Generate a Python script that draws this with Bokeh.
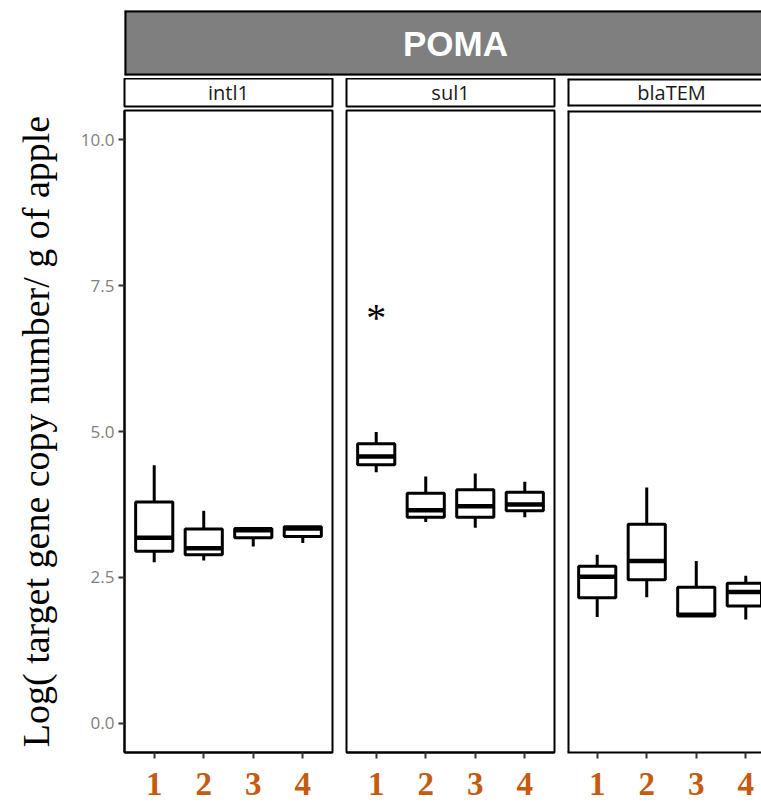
from bokeh.plotting import figure
from bokeh.layouts import column, row
from bokeh.models import Range1d, FixedTicker, Label, Span, ColumnDataSource
from bokeh.core.properties import value
from bokeh.embed import file_html
from bokeh.resources import INLINE

# ---------------- data ----------------
header = "POMA"
genes = ["intl1", "sul1", "blaTEM"]
groups = [1, 2, 3, 4]
group_labels = ["1", "2", "3", "4"]
y_ticks = [0.0, 2.5, 5.0, 7.5, 10.0]
y_tick_labels = ["0.0", "2.5", "5.0", "7.5", "10.0"]
y_title = "Log( target gene copy number/ g of apple"

intl1_lower = [2.76, 2.79, 3.03, 3.09]
intl1_q1 = [2.95, 2.89, 3.18, 3.20]
intl1_median = [3.18, 3.00, 3.31, 3.34]
intl1_q3 = [3.79, 3.33, 3.34, 3.37]
intl1_upper = [4.42, 3.64, 3.34, 3.37]

sul1_lower = [4.30, 3.45, 3.35, 3.53]
sul1_q1 = [4.43, 3.53, 3.53, 3.64]
sul1_median = [4.57, 3.65, 3.72, 3.75]
sul1_q3 = [4.79, 3.94, 4.00, 3.96]
sul1_upper = [4.99, 4.23, 4.28, 4.14]

blaTEM_lower = [1.82, 2.16, 1.82, 1.78]
blaTEM_q1 = [2.15, 2.46, 1.84, 2.01]
blaTEM_median = [2.51, 2.78, 1.86, 2.25]
blaTEM_q3 = [2.69, 3.41, 2.33, 2.40]
blaTEM_upper = [2.89, 4.04, 2.78, 2.53]

signif_gene = "sul1"
signif_group = 1
signif_y = 7.0
signif_mark = "*"

stats = {
    "intl1": (intl1_lower, intl1_q1, intl1_median, intl1_q3, intl1_upper),
    "sul1": (sul1_lower, sul1_q1, sul1_median, sul1_q3, sul1_upper),
    "blaTEM": (blaTEM_lower, blaTEM_q1, blaTEM_median, blaTEM_q3, blaTEM_upper),
}

# ---------------- layout constants ----------------
W, H = 761, 804
Y0, Y1 = -0.5, 10.5
X0, X1 = 0.4, 4.6
LEFT = 124
PW = 208
border_l = [LEFT, 7, 7]
border_r = [7, 6, 0]
used = sum(border_l[:2]) + sum(border_r[:2]) + 2 * PW + border_l[2]
frame_w = [PW, PW, W - used]
HEAD_H = 78
STRIP_H = 30
PANEL_H = H - HEAD_H - STRIP_H
BOX_W = 0.75
ORANGE = "#C55A11"
LW = 3


def edges(p, x0, x1, y0, y1, sides, color="black", width=4):
    if "l" in sides:
        p.add_layout(Span(location=x0, dimension="height", line_color=color, line_width=width))
    if "r" in sides:
        p.add_layout(Span(location=x1, dimension="height", line_color=color, line_width=width))
    if "t" in sides:
        p.add_layout(Span(location=y1, dimension="width", line_color=color, line_width=width))
    if "b" in sides:
        p.add_layout(Span(location=y0, dimension="width", line_color=color, line_width=width))


# ---------------- header ----------------
head_w = W - LEFT
head = figure(width=W, height=HEAD_H, x_range=Range1d(0, head_w), y_range=Range1d(0, 1),
              x_axis_location=None, y_axis_location=None, toolbar_location=None,
              output_backend="svg", min_border_left=LEFT, min_border_right=0,
              min_border_top=10, min_border_bottom=3, background_fill_color="#7f7f7f",
              border_fill_color="white", outline_line_color=None)
head.grid.grid_line_color = None
edges(head, 0, head_w, 0, 1, "ltb")
head.add_layout(Label(x=331, y=0.5, text=header, text_align="center", text_baseline="middle",
                      text_color="white", text_font_size="35px", text_font_style="bold",
                      text_font="Liberation Sans"))

strips = []
panels = []
for i, gene in enumerate(genes):
    fw = frame_w[i]
    xend = X0 + fw * (X1 - X0) / PW
    xr = Range1d(X0, xend)
    width = border_l[i] + fw + border_r[i]
    last = i == len(genes) - 1

    # strip
    s = figure(width=width, height=STRIP_H, x_range=xr, y_range=Range1d(0, 1),
               x_axis_location=None, y_axis_location=None, toolbar_location=None,
               output_backend="svg", min_border_left=border_l[i], min_border_right=border_r[i],
               min_border_top=0, min_border_bottom=2, background_fill_color="white",
               border_fill_color="white",
               outline_line_color=None if last else "black", outline_line_width=2)
    s.grid.grid_line_color = None
    if last:
        edges(s, X0, xend, 0, 1, "ltb")
    s.add_layout(Label(x=(X0 + X1) / 2, y=0.5, text=gene, text_align="center",
                       text_baseline="middle", text_color="#1a1a1a", text_font_size="20px",
                       text_font="Open Sans"))
    strips.append(s)

    # panel
    p = figure(width=width, height=PANEL_H, x_range=xr, y_range=Range1d(Y0, Y1),
               toolbar_location=None, output_backend="svg",
               min_border_left=border_l[i], min_border_right=border_r[i],
               min_border_top=2, min_border_bottom=52,
               y_axis_location="left" if i == 0 else None,
               background_fill_color="white", border_fill_color="white",
               outline_line_color=None if last else "black", outline_line_width=2)
    p.grid.grid_line_color = None
    if last:
        edges(p, X0, xend, Y0, Y1, "lt")

    xa = p.xaxis[0]
    xa.ticker = FixedTicker(ticks=groups)
    xa.major_label_overrides = {g: l for g, l in zip(groups, group_labels)}
    xa.major_label_text_font = "Liberation Serif"
    xa.major_label_text_font_style = "bold"
    xa.major_label_text_font_size = "33px"
    xa.major_label_text_color = ORANGE
    xa.major_label_standoff = 14
    xa.major_tick_out = 6
    xa.major_tick_in = 0
    xa.minor_tick_line_color = None
    xa.major_tick_line_width = 2
    xa.major_tick_line_color = "#333333"
    xa.axis_line_width = 2
    xa.axis_line_color = "black"

    if i == 0:
        ya = p.yaxis[0]
        ya.ticker = FixedTicker(ticks=y_ticks)
        ya.major_label_overrides = {t: l for t, l in zip(y_ticks, y_tick_labels)}
        ya.major_label_text_font = "Open Sans"
        ya.major_label_text_font_size = "17px"
        ya.major_label_text_color = "#808080"
        ya.major_label_standoff = 4
        ya.major_tick_out = 6
        ya.major_tick_in = 0
        ya.minor_tick_line_color = None
        ya.major_tick_line_width = 2
        ya.major_tick_line_color = "#333333"
        ya.axis_line_width = 2
        ya.axis_line_color = "black"
        ya.axis_label = y_title
        ya.axis_label_text_font = "Liberation Serif"
        ya.axis_label_text_font_style = "normal"
        ya.axis_label_text_font_size = "38px"
        ya.axis_label_text_color = "black"
        ya.axis_label_standoff = 21

    lo, q1, med, q3, up = stats[gene]
    src = ColumnDataSource(dict(
        x=groups, lo=lo, q1=q1, med=med, q3=q3, up=up,
        left=[g - BOX_W / 2 for g in groups], right=[g + BOX_W / 2 for g in groups],
    ))
    p.segment(x0="x", y0="lo", x1="x", y1="q1", source=src, line_color="black", line_width=LW)
    p.segment(x0="x", y0="q3", x1="x", y1="up", source=src, line_color="black", line_width=LW)
    p.vbar(x="x", width=BOX_W, top="q3", bottom="q1", source=src, fill_color="white",
           line_color="black", line_width=LW)
    p.segment(x0="left", y0="med", x1="right", y1="med", source=src, line_color="black",
              line_width=4.5)

    if gene == signif_gene:
        p.text(x=[signif_group], y=[signif_y], text=[signif_mark], text_align="center",
               text_baseline="middle", text_font=value("Liberation Serif"),
               text_font_size="40px", text_color="black", y_offset=3)
    panels.append(p)

layout = column(head, row(*strips, spacing=0), row(*panels, spacing=0), spacing=0)
open("out.html", "w").write(file_html(layout, INLINE))
